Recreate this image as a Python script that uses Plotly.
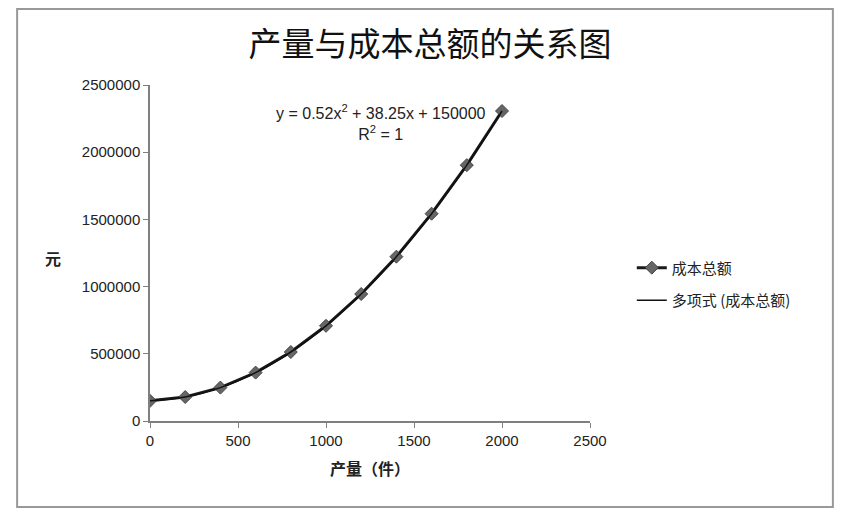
import plotly.graph_objects as go

output = [0, 200, 400, 600, 800, 1000, 1200, 1400, 1600, 1800, 2000]
cost = [150000, 178450, 248500, 360150, 513400, 708250, 944700, 1222750, 1542400, 1903650, 2306500]

font = "Noto Sans CJK SC"
num_font = "Liberation Sans"

fig = go.Figure()

fig.add_trace(
    go.Scatter(
        x=output,
        y=cost,
        mode="lines+markers",
        name="成本总额",
        legendgroup="a",
        line=dict(color="#1a1a1a", width=3),
        marker=dict(symbol="diamond", size=10, color="#666666", line=dict(color="#444444", width=1)),
    )
)

fig.add_trace(
    go.Scatter(
        x=output,
        y=cost,
        mode="lines",
        name="多项式 (成本总额)",
        legendgroup="b",
        line=dict(color="#111111", width=1.5, shape="spline"),
    )
)

fig.update_layout(
    width=844,
    height=506,
    paper_bgcolor="white",
    plot_bgcolor="white",
    margin=dict(l=142, r=262, t=77, b=93),
    font=dict(family=font, size=13, color="#222222"),
    title=dict(
        text="产量与成本总额的关系图",
        x=0.5,
        xanchor="center",
        y=0.927,
        yanchor="middle",
        font=dict(family=font, size=33, color="#111111"),
    ),
    legend=dict(
        x=1.095,
        y=0.408,
        xanchor="left",
        yanchor="middle",
        font=dict(family=font, size=15, color="#222222"),
        tracegroupgap=10,
    ),
    showlegend=True,
)

fig.update_xaxes(
    range=[0, 2500],
    dtick=500,
    tickformat="d",
    showgrid=False,
    zeroline=False,
    showline=True,
    linecolor="#7f7f7f",
    linewidth=1.5,
    ticks="outside",
    ticklen=5,
    tickcolor="#7f7f7f",
    tickfont=dict(family=num_font, size=15, color="#222222"),
)

fig.update_yaxes(
    range=[0, 2500000],
    dtick=500000,
    tickformat="d",
    showgrid=False,
    zeroline=False,
    showline=True,
    linecolor="#7f7f7f",
    linewidth=1.5,
    ticks="outside",
    ticklen=5,
    tickcolor="#7f7f7f",
    tickfont=dict(family=num_font, size=15, color="#222222"),
)

fig.add_annotation(
    text="<b>产量（件）</b>",
    xref="paper",
    yref="paper",
    x=0.5,
    y=-0.14,
    xanchor="center",
    yanchor="middle",
    showarrow=False,
    font=dict(size=16),
)

fig.add_annotation(
    text="<b>元</b>",
    xref="paper",
    yref="paper",
    x=-0.22,
    y=0.485,
    xanchor="center",
    yanchor="middle",
    showarrow=False,
    font=dict(size=16),
)

fig.add_annotation(
    text="y = 0.52x<sup>2</sup> + 38.25x + 150000<br>R<sup>2</sup> = 1",
    xref="paper",
    yref="paper",
    x=0.525,
    y=0.955,
    xanchor="center",
    yanchor="top",
    showarrow=False,
    align="center",
    font=dict(family=num_font, size=16, color="#222222"),
)

# chart area border, as in the spreadsheet
fig.add_shape(
    type="rect",
    xref="paper",
    yref="paper",
    x0=-0.302,
    x1=1.552,
    y0=-0.256,
    y1=1.226,
    line=dict(color="#999999", width=2),
)

fig.write_html("out.html")
